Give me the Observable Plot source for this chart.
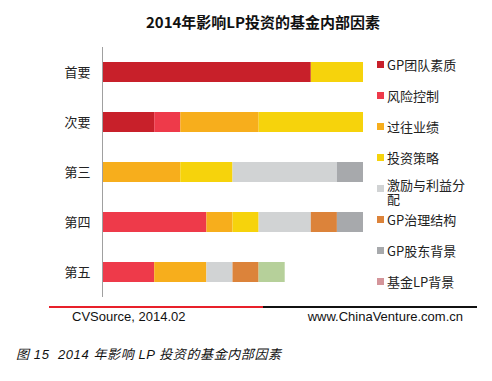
<!DOCTYPE html>
<html>
<head>
<meta charset="utf-8">
<script src="https://cdn.jsdelivr.net/npm/d3@7"></script>
<script src="https://cdn.jsdelivr.net/npm/@observablehq/plot@0.6"></script>
<style>
  body { margin: 0; background: #fff; }
  #wrap { position: relative; width: 492px; height: 381px; overflow: hidden; font-family: "Noto Sans CJK SC", "Noto Sans", sans-serif; }
  #title { position: absolute; top: 11px; left: 0; width: 526px; text-align: center; font-size: 15px; font-weight: bold; color: #111; }
  #chart { position: absolute; left: 0; top: 0; }
  #legend { position: absolute; left: 377px; top: 56px; width: 100px; }
  .item { position: relative; height: 31px; font-size: 13px; color: #222; line-height: 17px; }
  .sw { position: absolute; left: 0; top: 5px; width: 7px; height: 7px; }
  .lab { position: absolute; left: 10px; top: 0; width: 84px; }
  .lab.wrap { line-height: 14px; top: -2px; }
  #lineRed { position: absolute; left: 49px; top: 306px; width: 214px; height: 2px; background: #e8202a; }
  #lineBlack { position: absolute; left: 263px; top: 306px; width: 214px; height: 2px; background: #111; }
  .foot { position: absolute; top: 309px; font-family: "Liberation Sans", Arial, sans-serif; font-size: 13px; color: #111; }
  #caption { position: absolute; left: 16px; top: 344px; font-family: "Liberation Sans", "Noto Sans CJK SC", sans-serif; font-style: italic; font-size: 13px; letter-spacing: 0.6px; color: #111; white-space: pre; }
</style>
</head>
<body>
<div id="wrap">
  <div id="title"></div>
  <div id="chart"></div>
  <div id="legend"></div>
  <div id="lineRed"></div>
  <div id="lineBlack"></div>
  <div class="foot" id="src" style="left:72px;"></div>
  <div class="foot" id="site" style="right:29px;"></div>
  <div id="caption"></div>
</div>
<script>
const titleText = "2014年影响LP投资的基金内部因素";
const sourceText = "CVSource, 2014.02";
const siteText = "www.ChinaVenture.com.cn";
const captionText = "图 15  2014 年影响 LP 投资的基金内部因素";

const categories = ["首要", "次要", "第三", "第四", "第五"];
const series = ["GP团队素质", "风险控制", "过往业绩", "投资策略", "激励与利益分配", "GP治理结构", "GP股东背景", "基金LP背景", "其他"];
const legendSeries = ["GP团队素质", "风险控制", "过往业绩", "投资策略", "激励与利益分配", "GP治理结构", "GP股东背景", "基金LP背景"];
const colors = ["#c8202a", "#ee3a4a", "#f7ae1c", "#f6d30c", "#d1d3d4", "#dc833a", "#a7a9ac", "#d4959a", "#b6d09a"];

// share (%) of each factor at each rank
const vGPTeam     = [80, 20,  0,  0,  0];
const vRisk       = [ 0, 10,  0, 40, 20];
const vTrack      = [ 0, 30, 30, 10, 20];
const vStrategy   = [20, 40, 20, 10,  0];
const vIncentive  = [ 0,  0, 40, 20, 10];
const vGovern     = [ 0,  0,  0, 10, 10];
const vShareholder= [ 0,  0, 10, 10,  0];
const vLP         = [ 0,  0,  0,  0,  0];
const vOther      = [ 0,  0,  0,  0, 10];
const seriesValues = [vGPTeam, vRisk, vTrack, vStrategy, vIncentive, vGovern, vShareholder, vLP, vOther];

const data = [];
series.forEach((s, i) => categories.forEach((c, j) => {
  if (seriesValues[i][j] > 0) data.push({series: s, rank: c, value: seriesValues[i][j]});
}));

document.getElementById("title").textContent = titleText;
document.getElementById("src").textContent = sourceText;
document.getElementById("site").textContent = siteText;
document.getElementById("caption").textContent = captionText;

const chart = Plot.plot({
  width: 370,
  height: 310,
  marginTop: 47,
  marginBottom: 13,
  marginLeft: 102,
  marginRight: 7,
  style: {fontFamily: "'Noto Sans CJK SC', sans-serif", fontSize: "13px", color: "#222", background: "transparent"},
  x: {domain: [0, 100], axis: null},
  y: {domain: categories, paddingInner: 0.61, paddingOuter: 0.305, tickSize: 0, tickPadding: 12, label: null},
  color: {domain: series, range: colors},
  marks: [
    Plot.barX(data, Plot.stackX({x: "value", y: "rank", fill: "series", order: series})),
    Plot.ruleX([0], {stroke: "#a0a0a0", strokeWidth: 1})
  ]
});
document.getElementById("chart").appendChild(chart);

const leg = document.getElementById("legend");
legendSeries.forEach((s, i) => {
  const it = document.createElement("div");
  it.className = "item";
  const sw = document.createElement("div");
  sw.className = "sw";
  sw.style.background = colors[series.indexOf(s)];
  const lab = document.createElement("div");
  lab.className = s.length > 6 ? "lab wrap" : "lab";
  lab.textContent = s;
  it.appendChild(sw); it.appendChild(lab);
  leg.appendChild(it);
});
</script>
</body>
</html>
